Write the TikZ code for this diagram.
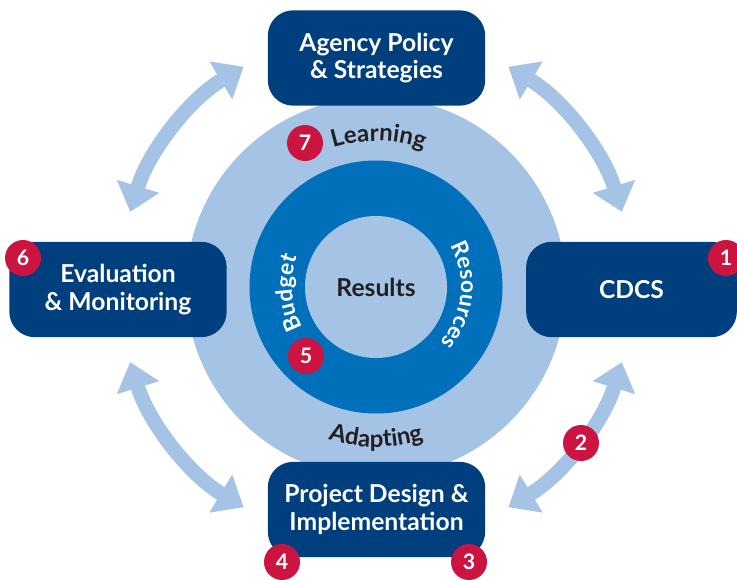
\documentclass[tikz,border=0pt]{standalone}
\usepackage{fontspec}
\setmainfont{Lato}
\usetikzlibrary{arrows.meta,decorations.text}

\definecolor{navy}{HTML}{003F7D}
\definecolor{paleblue}{HTML}{A5C3E5}
\definecolor{ringblue}{HTML}{0070BA}
\definecolor{badgered}{HTML}{CC1440}
\definecolor{inkdark}{HTML}{231F20}

\tikzset{every picture/.style={line width=0.75pt}}
\tikzset{
  stagebox/.style={fill=navy, rounded corners=19pt, text=white, align=center,
    minimum width=163pt, minimum height=71.5pt, inner sep=0pt,
    font=\fontsize{18.5}{20.5}\selectfont\bfseries},
  badge/.style={circle, fill=badgered, text=white, minimum size=27pt, inner sep=0pt,
    font=\fontsize{16}{16}\selectfont\bfseries},
  linkarrow/.style={paleblue, line width=11pt,
    {Triangle[width=32pt,length=20pt]}-{Triangle[width=32pt,length=20pt]}},
}

\begin{document}
\begin{tikzpicture}[x=0.75pt,y=0.75pt]
\useasboundingbox (0,0) rectangle (737,579);
\coordinate (c) at (376,292);

%Shape: Circles
\fill[paleblue] (c) circle[radius=190];
\fill[ringblue] (c) circle[radius=126.5];
\fill[paleblue] (c) circle[radius=71];

%Curve Lines: double arrows
\path (c) ++(121:257) coordinate (policy-w) (c) ++(59:257) coordinate (policy-e)
      (c) ++(197:257) coordinate (evaluation-s) (c) ++(301:257) coordinate (project-e);
\draw[linkarrow] (policy-w) arc[start angle=121, end angle=163, radius=257];
\draw[linkarrow] (policy-e) arc[start angle=59, end angle=17, radius=257];
\draw[linkarrow] (evaluation-s) arc[start angle=197, end angle=239, radius=257];
\draw[linkarrow] (project-e) arc[start angle=301, end angle=343, radius=257];

% Boxes
\node[stagebox] (policy) at (376.5,521) {Agency Policy\\\& Strategies};
\node[stagebox] (evaluation) at (118,289.5) {Evaluation\\\& Monitoring};
\node[stagebox, minimum width=158pt] (cdcs) at (631.5,289.5) {CDCS};
\node[stagebox] (project) at (376.5,69.5) {Project Design \&\\Implementation};

% Text Node
\node[text=inkdark, font=\fontsize{18.5}{20}\selectfont\bfseries] (results) at (c) {Results};

% Curved texts
\path[decorate, decoration={text along path, text align=center, text color=inkdark,
  text={|\fontsize{18}{20}\selectfont\bfseries|Learning}}]
  (c) ++(118:146) arc[start angle=118, end angle=60, radius=146];
\path[decorate, decoration={text along path, text align=center, text color=inkdark,
  text={|\fontsize{18}{20}\selectfont\bfseries|Adapting}}]
  (c) ++(243:160) arc[start angle=243, end angle=297, radius=160];
\path[decorate, decoration={text along path, text align=center, text color=white,
  text={|\fontsize{17}{19}\selectfont\bfseries|Budget}}]
  (c) ++(218:84) arc[start angle=218, end angle=150, radius=84];
\path[decorate, decoration={text along path, text align=center, text color=white,
  text={|\fontsize{17}{19}\selectfont\bfseries|Resources}}]
  (c) ++(45:85) arc[start angle=45, end angle=-57, radius=85];

% Badges
\node[badge] (b1) at (726,321) {1};
\node[badge] (b2) at (581,136) {2};
\node[badge] (b3) at (469,17) {3};
\node[badge] (b4) at (282,17) {4};
\node[badge] (b5) at (306,223) {5};
\node[badge] (b6) at (23,321) {6};
\node[badge] (b7) at (305,436) {7};

\end{tikzpicture}
\end{document}
